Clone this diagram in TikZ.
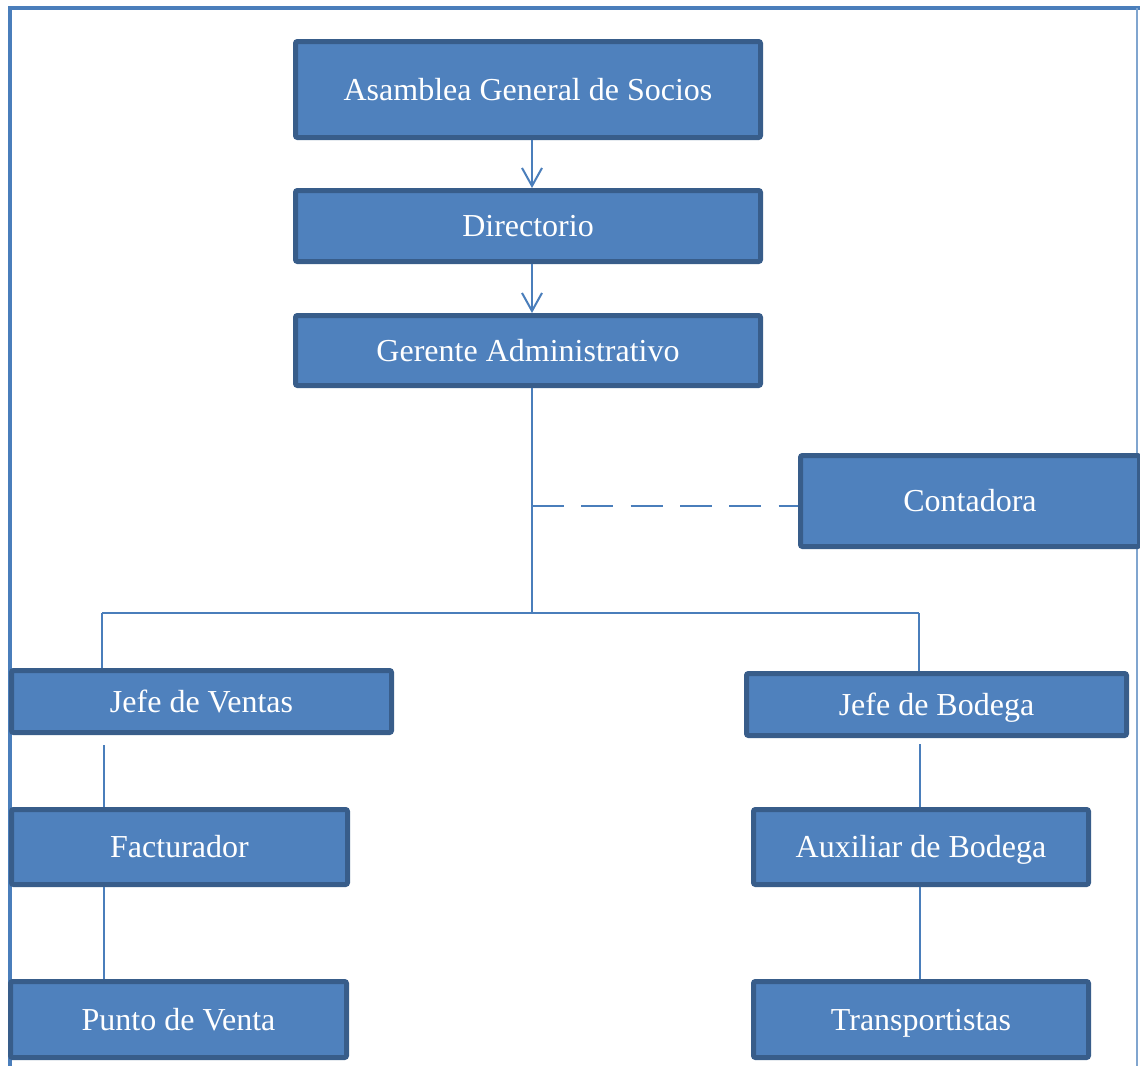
\documentclass[tikz,border=0pt]{standalone}
\usepackage{fontspec}
\setmainfont{Liberation Serif}
\usetikzlibrary{arrows.meta,calc}
\definecolor{boxfill}{HTML}{4F81BD}
\definecolor{boxedge}{HTML}{385D8A}
\definecolor{linec}{HTML}{4A7EBB}
\begin{document}
\begin{tikzpicture}[x=0.75pt,y=-0.75pt,
  orgbox/.style={draw=boxedge,fill=boxfill,line width=3.75pt,rounded corners=1.5pt,
    text=white,font=\fontsize{24}{28}\selectfont,inner sep=0pt,
    text height=15.8pt,text depth=0pt},
  link/.style={draw=linec,line width=1.5pt},
  arr/.style={link,-{Straight Barb[length=13.5pt,width=15pt,line width=1.5pt]}}]
\useasboundingbox (0,0) rectangle (1140,1065);
% outer frame
\draw[draw=linec,line width=3pt] (10,1066) -- (10,8) -- (1141,8);
\draw[draw=linec!70,line width=1.2pt] (1137,8) -- (1137,1066);
% boxes
\node[orgbox,minimum width=348.75pt,minimum height=72pt] (asa) at (528,89.5) {Asamblea General de Socios};
\node[orgbox,minimum width=348.75pt,minimum height=53.25pt] (dir) at (528,226) {Directorio};
\node[orgbox,minimum width=348.75pt,minimum height=52.5pt] (ger) at (528,350.5) {Gerente Administrativo};
\node[orgbox,minimum width=254.25pt,minimum height=68.25pt] (con) at (970,501) {Contadora};
\node[orgbox,minimum width=285pt,minimum height=46.5pt] (jv) at (201.5,701.5) {Jefe de Ventas};
\node[orgbox,minimum width=285pt,minimum height=46.5pt] (jb) at (936.5,704.5) {Jefe de Bodega};
\node[orgbox,minimum width=252pt,minimum height=56.25pt] (fac) at (179.5,847) {Facturador};
\node[orgbox,minimum width=251.25pt,minimum height=56.25pt] (aux) at (921,847) {Auxiliar de Bodega};
\node[orgbox,minimum width=252pt,minimum height=57pt] (pv) at (178.5,1019.5) {Punto de Venta};
\node[orgbox,minimum width=251.25pt,minimum height=57pt] (tra) at (921,1019.5) {Transportistas};
% reference coordinates
\coordinate (cx) at (532,0);
\coordinate (junc) at (532,613);
\coordinate (lx) at (102,613);
\coordinate (rx) at (919,613);
\coordinate (dsh) at (532,506);
\coordinate (lv) at (104,0);
\coordinate (rv) at (920,0);
% connectors
\draw[arr] (asa.south -| cx) -- (dir.north -| cx);
\draw[arr] (dir.south -| cx) -- (ger.north -| cx);
\draw[link] (ger.south -| cx) -- (junc);
\draw[link] (lx) -- (rx);
\draw[link] (lx) -- (jv.north -| lx);
\draw[link] (rx) -- (jb.north -| rx);
\draw[link,dash pattern=on 24pt off 13pt] (dsh) -- (con.west |- dsh);
\draw[link,shorten <=7.5pt] (jv.south -| lv) -- (fac.north -| lv);
\draw[link] (fac.south -| lv) -- (pv.north -| lv);
\draw[link,shorten <=4.5pt] (jb.south -| rv) -- (aux.north -| rv);
\draw[link] (aux.south -| rv) -- (tra.north -| rv);
\end{tikzpicture}
\end{document}
